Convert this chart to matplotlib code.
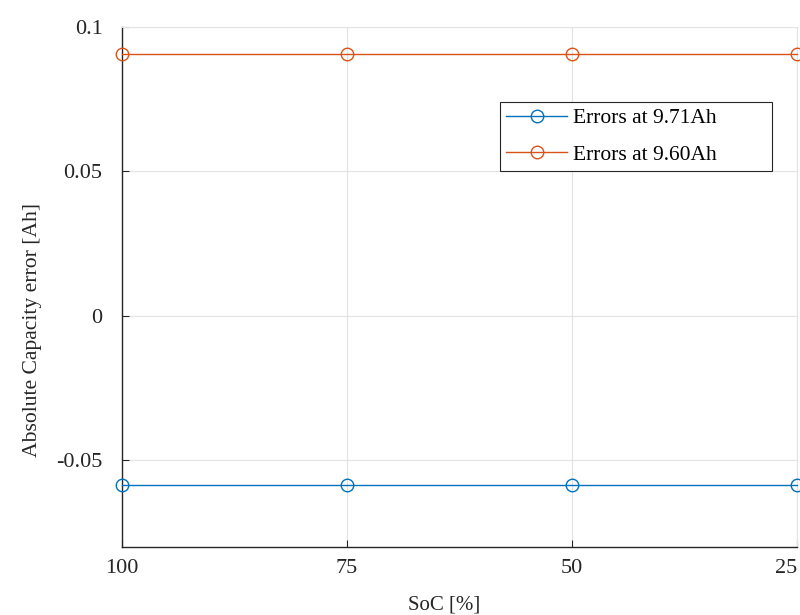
import numpy as np
import matplotlib
matplotlib.use('Agg')
import matplotlib.pyplot as plt

# data
soc = [100, 75, 50, 25]
err_971 = [-0.0587, -0.0587, -0.0587, -0.0587]
err_960 = [0.0907, 0.0907, 0.0907, 0.0907]
xticks = [100, 75, 50, 25]
yticks = [-0.05, 0, 0.05, 0.1]
ytick_labels = ['-0.05', '0', '0.05', '0.1']

plt.rcParams['font.family'] = ['Liberation Serif', 'DejaVu Serif']

fig = plt.figure(figsize=(8, 6.15), dpi=100)
ax = fig.add_axes([0.1525, 0.1106, 0.8437, 0.8455])

ax.plot(soc, err_971, color='#0072BD', lw=1, marker='o', mfc='none', ms=9, mew=1,
        label='Errors at 9.71Ah', clip_on=False, zorder=3)
ax.plot(soc, err_960, color='#D95319', lw=1, marker='o', mfc='none', ms=9, mew=1,
        label='Errors at 9.60Ah', clip_on=False, zorder=3)

ax.set_xlim(100, 25)
ax.set_ylim(-0.08, 0.1)
ax.set_xticks(xticks)
ax.set_yticks(yticks)
ax.set_yticklabels(ytick_labels)
ax.tick_params(direction='in', labelsize=16, colors='#262626', length=5)
ax.tick_params(axis='y', pad=14)
ax.tick_params(axis='x', pad=9)
ax.get_xticklabels()[-1].set_horizontalalignment('right')
ax.grid(True, color='#e3e3e3', lw=0.8)
ax.set_axisbelow(True)

for s in ['top', 'right']:
    ax.spines[s].set_color('#e3e3e3')
for s in ['left', 'bottom']:
    ax.spines[s].set_color('#262626')
    ax.spines[s].set_linewidth(1)

ax.set_xlabel('SoC [%]', fontsize=15, color='#262626')
ax.xaxis.set_label_coords(0.477, -0.112, transform=ax.transAxes)
ax.xaxis.label.set_verticalalignment('center')
ax.set_ylabel('Absolute Capacity error [Ah]', fontsize=15.6, color='#262626')
ax.yaxis.set_label_coords(-0.133, 0.417, transform=ax.transAxes)
ax.yaxis.label.set_verticalalignment('center')

leg = ax.legend(loc='upper left', bbox_to_anchor=(0.56, 0.715, 0.403, 0.141), mode='expand',
                fontsize=15.5, fancybox=False, framealpha=1, edgecolor='#262626',
                borderpad=0.3, labelspacing=0.75, handlelength=2.8, handletextpad=0.3,
                borderaxespad=0)
leg.get_frame().set_linewidth(0.8)

fig.savefig('out.png', dpi=100)
